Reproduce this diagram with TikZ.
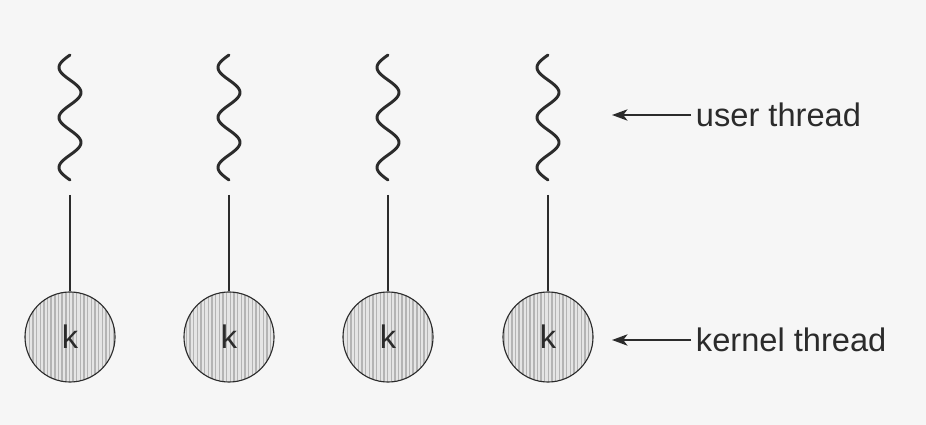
\documentclass[tikz,border=0pt]{standalone}
\usepackage{fontspec}
\setmainfont{Liberation Sans}
\usetikzlibrary{arrows.meta,patterns.meta}
\definecolor{paper}{HTML}{F6F6F6}
\definecolor{ink}{HTML}{2B2B2B}
\definecolor{hatch}{HTML}{B4B4B4}

\begin{document}
\begin{tikzpicture}[
  x=0.025cm, y=-0.025cm,
  kthread/.style={circle,draw=ink,line width=0.8pt,minimum size=2.25cm,inner sep=0pt,
                  preaction={fill=hatch!35},
                  pattern={Lines[angle=90,distance=2.6pt,line width=1pt]},pattern color=hatch,
                  text=ink,font=\fontsize{23.2}{27}\selectfont},
  uthread/.style={draw=ink,line width=2.1pt,line cap=round},
  link/.style={draw=ink,line width=1.3pt},
  tag/.style={anchor=west,text=ink,font=\fontsize{23.2}{27}\selectfont},
  pointer/.style={-{Stealth[length=11pt,width=8pt,inset=3pt]},line width=1.6pt,draw=ink},
]
  \fill[paper] (0,0) rectangle (926,425);
  \useasboundingbox (0,0) rectangle (926,425);

  % one user thread on top of each kernel thread
  \foreach \cx [count=\i] in {70,229,388,548} {
    \draw[uthread] plot[domain=0:900,samples=120] ({\cx-11*sin(\x)},{55+\x/7.2});
    \coordinate (u\i) at (\cx,195);
    \node[kthread] (k\i) at (\cx,337) {k};
    \draw[link] (u\i) -- (k\i);
  }

  \node[tag] (ulabel) at (691,115) {user thread};
  \node[tag] (klabel) at (691,340) {kernel thread};
  \coordinate (utip) at (612,115);
  \coordinate (ktip) at (612,340);
  \draw[pointer] (ulabel) -- (utip);
  \draw[pointer] (klabel) -- (ktip);
\end{tikzpicture}
\end{document}
